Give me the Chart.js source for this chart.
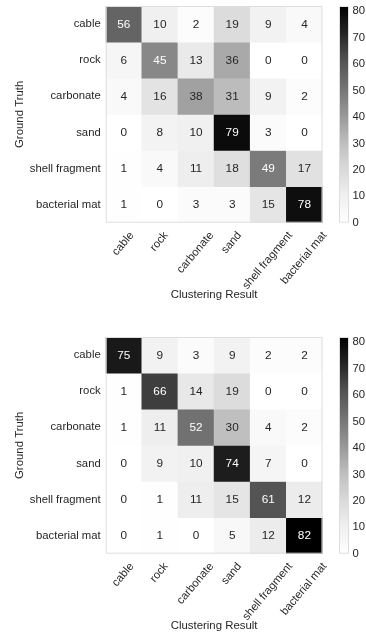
<!DOCTYPE html>
<html>
<head>
<meta charset="utf-8">
<script src="https://cdn.jsdelivr.net/npm/chart.js@4/dist/chart.umd.min.js"></script>
<style>
  html, body { margin: 0; padding: 0; background: #ffffff; }
  canvas { display: block; }
</style>
</head>
<body>
<canvas id="cmTop" width="366" height="331"></canvas>
<canvas id="cmBottom" width="366" height="306"></canvas>
<script>
// Class names shared by both axes (rows = ground truth, columns = clustering result)
const classes = ['cable', 'rock', 'carbonate', 'sand', 'shell fragment', 'bacterial mat'];

// First clustering run, one array per ground-truth row
const runA_cable     = [56, 10, 2, 19, 9, 4];
const runA_rock      = [6, 45, 13, 36, 0, 0];
const runA_carbonate = [4, 16, 38, 31, 9, 2];
const runA_sand      = [0, 8, 10, 79, 3, 0];
const runA_shell     = [1, 4, 11, 18, 49, 17];
const runA_mat       = [1, 0, 3, 3, 15, 78];

// Second clustering run
const runB_cable     = [75, 9, 3, 9, 2, 2];
const runB_rock      = [1, 66, 14, 19, 0, 0];
const runB_carbonate = [1, 11, 52, 30, 4, 2];
const runB_sand      = [0, 9, 10, 74, 7, 0];
const runB_shell     = [0, 1, 11, 15, 61, 12];
const runB_mat       = [0, 1, 0, 5, 12, 82];

// Colour bar range and its tick labels
const colorbarTicks = [0, 10, 20, 30, 40, 50, 60, 70, 80];
const colorMax = 82;

const runA = [runA_cable, runA_rock, runA_carbonate, runA_sand, runA_shell, runA_mat];
const runB = [runB_cable, runB_rock, runB_carbonate, runB_sand, runB_shell, runB_mat];

// "Greys" sequential colour map (white -> black)
const GREYS = [255, 240, 217, 189, 150, 115, 82, 37, 0];
function greyLevel(v) {
  const t = Math.max(0, Math.min(1, v / colorMax)) * (GREYS.length - 1);
  const i = Math.min(Math.floor(t), GREYS.length - 2);
  const f = t - i;
  return GREYS[i] + (GREYS[i + 1] - GREYS[i]) * f;
}
function greyColor(v) {
  const g = Math.round(greyLevel(v));
  return `rgb(${g},${g},${g})`;
}
function luminance(v) {
  const c = greyLevel(v) / 255;
  return c <= 0.03928 ? c / 12.92 : Math.pow((c + 0.055) / 1.055, 2.4);
}

const FONT = "'Liberation Sans', Arial, Helvetica, sans-serif";
const TEXT = '#262626';
const TICK_SIZE = 11.3;
const TITLE_SIZE = 11.4;
const ANNOT_SIZE = 11.8;
const LABEL_ANGLE = 50 * Math.PI / 180;
const FRAME = '#dedede';

Chart.defaults.font.family = FONT;
Chart.defaults.color = TEXT;

function buildDatasets(matrix) {
  return matrix.map((row, r) => ({
    label: classes[r],
    data: row.map((v, c) => ({ x: classes[c], y: [r - 0.5, r + 0.5], v: v })),
    backgroundColor: ctx => (ctx.raw ? greyColor(ctx.raw.v) : '#ffffff'),
    borderWidth: 0,
    grouped: false,
    barPercentage: 1,
    categoryPercentage: 1
  }));
}

// Vertical axes: keep the tick-label overhang from pushing the plot area down
function fixVerticalAxis(width) {
  return s => {
    s.width = width;
    s.paddingTop = 0;
    s.paddingBottom = 0;
  };
}

// Draws the frame, the cell annotations, the slanted column labels and the colour bar
const heatmapDecor = {
  id: 'heatmapDecor',
  afterDraw(chart) {
    const ctx = chart.ctx;
    const area = chart.chartArea;

    // frame around the cells
    ctx.save();
    ctx.strokeStyle = FRAME;
    ctx.lineWidth = 1;
    ctx.strokeRect(area.left + 0.5, area.top + 0.5, area.right - area.left - 1, area.bottom - area.top - 1);
    ctx.restore();

    // value annotations in each cell
    ctx.save();
    ctx.font = `${ANNOT_SIZE}px ${FONT}`;
    ctx.textAlign = 'center';
    ctx.textBaseline = 'middle';
    chart.data.datasets.forEach((ds, di) => {
      const meta = chart.getDatasetMeta(di);
      meta.data.forEach((el, j) => {
        const v = ds.data[j].v;
        ctx.fillStyle = luminance(v) < 0.3 ? '#ffffff' : TEXT;
        ctx.fillText(String(v), el.x, (el.y + el.base) / 2 + 0.5);
      });
    });
    ctx.restore();

    // slanted column labels, their bounding boxes centred under each column
    const xs = chart.scales.x;
    const y0 = area.bottom + 7;
    ctx.save();
    ctx.font = `${TICK_SIZE}px ${FONT}`;
    ctx.fillStyle = TEXT;
    const H = TICK_SIZE * 1.15;
    const cosA = Math.cos(LABEL_ANGLE), sinA = Math.sin(LABEL_ANGLE);
    classes.forEach((lab, i) => {
      const xc = xs.getPixelForValue(i);
      const L = ctx.measureText(lab).width;
      const px = xc + (L * cosA - H * sinA) / 2;
      ctx.save();
      ctx.translate(px, y0);
      ctx.rotate(-LABEL_ANGLE);
      ctx.textAlign = 'right';
      ctx.textBaseline = 'top';
      ctx.fillText(lab, 0, 0);
      ctx.restore();
    });
    ctx.restore();

    // colour bar following the cb scale
    const cb = chart.scales.cb;
    const top = cb.getPixelForValue(colorMax);
    const bottom = cb.getPixelForValue(0);
    const left = 339, width = 10;
    const grad = ctx.createLinearGradient(0, bottom, 0, top);
    GREYS.forEach((g, k) => grad.addColorStop(k / (GREYS.length - 1), `rgb(${g},${g},${g})`));
    ctx.save();
    ctx.fillStyle = grad;
    ctx.fillRect(left, top, width, bottom - top);
    ctx.strokeStyle = FRAME;
    ctx.lineWidth = 1;
    ctx.strokeRect(left + 0.5, top + 0.5, width - 1, bottom - top - 1);
    ctx.restore();
  }
};

function makeHeatmap(canvasId, matrix, bottomPad) {
  return new Chart(document.getElementById(canvasId), {
    type: 'bar',
    data: { labels: classes, datasets: buildDatasets(matrix) },
    plugins: [heatmapDecor],
    options: {
      responsive: false,
      animation: false,
      devicePixelRatio: 1,
      layout: { padding: { top: 6, bottom: bottomPad, left: 0, right: 0 } },
      plugins: { legend: { display: false }, tooltip: { enabled: false } },
      scales: {
        x: {
          type: 'category',
          labels: classes,
          offset: true,
          grid: { display: false, drawTicks: false },
          border: { display: false },
          ticks: { display: false },
          title: {
            display: true,
            text: 'Clustering Result',
            color: TEXT,
            font: { size: TITLE_SIZE },
            padding: { top: 0, bottom: 4 }
          },
          afterFit: s => { s.height = 82.5; }
        },
        y: {
          type: 'linear',
          min: -0.5,
          max: 5.5,
          reverse: true,
          grid: { display: false, drawTicks: false },
          border: { display: false },
          afterBuildTicks: s => { s.ticks = classes.map((_, i) => ({ value: i })); },
          ticks: {
            padding: 5,
            color: TEXT,
            font: { size: TICK_SIZE },
            callback: v => classes[v]
          },
          title: {
            display: true,
            text: 'Ground Truth',
            color: TEXT,
            font: { size: TITLE_SIZE },
            padding: { top: 13, bottom: 0 }
          },
          afterFit: fixVerticalAxis(105.7)
        },
        cb: {
          type: 'linear',
          position: 'right',
          min: 0,
          max: colorMax,
          grid: { display: false, drawTicks: false },
          border: { display: false },
          afterBuildTicks: s => { s.ticks = colorbarTicks.map(v => ({ value: v })); },
          ticks: { padding: 30, color: TEXT, font: { size: TICK_SIZE } },
          afterFit: fixVerticalAxis(43.5)
        }
      }
    }
  });
}

makeHeatmap('cmTop', runA, 25.8);
makeHeatmap('cmBottom', runB, 0.8);
</script>
</body>
</html>
